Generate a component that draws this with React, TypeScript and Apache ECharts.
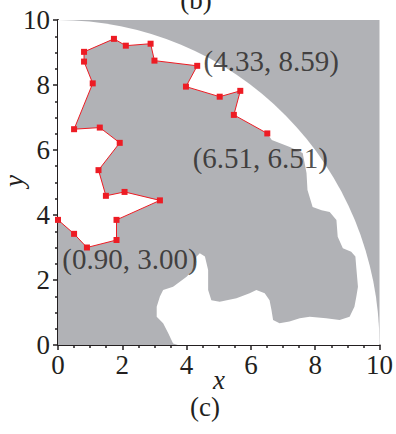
import React, { useEffect, useRef } from "react";
import * as echarts from "echarts";

// Red polyline (boundary trace) with square markers
const PATH_X = [6.51, 5.47, 5.67, 5.03, 3.98, 4.33, 3.0, 2.88, 2.11, 1.74, 0.81, 0.81, 1.08, 0.5, 1.3, 1.92, 1.26, 1.49, 2.07, 3.17, 1.82, 1.82, 0.9, 0.5, 0.0];
const PATH_Y = [6.51, 7.08, 7.82, 7.64, 7.95, 8.59, 8.75, 9.27, 9.21, 9.42, 9.02, 8.72, 8.05, 6.64, 6.69, 6.22, 5.38, 4.59, 4.71, 4.45, 3.85, 3.23, 3.0, 3.42, 3.85];

// Remaining outline of the gray body (after the trace, down to the bottom axis)
const EDGE_X = [6.65, 7.21, 7.61, 7.73, 7.76, 7.92, 8.2, 8.45, 8.66, 8.7, 8.86, 9.12, 9.25, 9.28, 9.33, 9.28, 9.22, 9.07, 8.76, 8.34, 7.83, 7.52, 7.2, 6.89, 6.69, 6.64, 6.58, 6.43, 6.17, 5.96, 5.55, 5.03, 4.77, 4.67, 4.67, 4.57, 4.41, 4.31, 4.2, 4.0, 3.58, 3.27, 3.17, 3.07, 3.07, 3.27, 3.43, 3.58, 3.73, 0];
const EDGE_Y = [6.31, 6.09, 5.91, 5.29, 4.77, 4.25, 4.15, 4.09, 3.85, 3.33, 2.98, 2.87, 2.72, 2.36, 1.79, 1.49, 1.18, 0.87, 0.77, 0.82, 0.87, 0.82, 0.72, 0.67, 0.77, 1.08, 1.38, 1.59, 1.69, 1.59, 1.44, 1.33, 1.38, 1.69, 2.31, 2.72, 2.82, 2.72, 2.31, 2.1, 1.79, 1.69, 1.49, 1.18, 0.87, 0.67, 0.36, 0.05, 0, 0];

// Radius of the white quarter disc (centered at origin)
const ARC_RADIUS = [10];

// Annotated points (indices into the trace)
const LABEL_INDEX = [5, 0, 22];

const X_TICKS = [0, 2, 4, 6, 8, 10];
const Y_TICKS = [0, 2, 4, 6, 8, 10];

const GRAY = "#b1b2b6";
const RED = "#ed1c24";
const TEXT = "#231f20";
const FONT = "Liberation Serif";

const LABEL_OFFSETS: number[][] = [
  [74, -5],
  [-7, 25],
  [43, 11],
];

export default function App() {
  const ref = useRef<HTMLDivElement>(null);

  useEffect(() => {
    if (!ref.current) return;
    const chart = echarts.init(ref.current, undefined, { renderer: "svg" });

    const bodyX = [...PATH_X].reverse().concat(EDGE_X);
    const bodyY = [...PATH_Y].reverse().concat(EDGE_Y);

    const axisCommon = {
      min: 0,
      max: 10,
      interval: 2,
      axisLine: { show: true, onZero: false, lineStyle: { color: TEXT, width: 2 } },
      axisTick: { show: true, inside: false, length: 5, lineStyle: { color: TEXT, width: 1.5 } },
      minorTick: { show: true, splitNumber: 4, length: 3, lineStyle: { color: TEXT, width: 1.5 } },
      splitLine: { show: false },
      minorSplitLine: { show: false },
    };

    const textStyle = (text: string, italic: boolean, extra: any = {}) => ({
      text,
      fontFamily: FONT,
      fontSize: 27,
      fontStyle: italic ? "italic" : "normal",
      fill: TEXT,
      align: "center",
      verticalAlign: "middle",
      ...extra,
    });

    chart.setOption({
      animation: false,
      backgroundColor: "#ffffff",
      grid: { left: 58, right: 16, top: 20, bottom: 89, containLabel: false },
      xAxis: {
        type: "value",
        ...axisCommon,
        axisLabel: {
          margin: 6,
          color: TEXT,
          fontFamily: FONT,
          fontSize: 27,
          formatter: (v: number) => (X_TICKS.includes(v) ? String(v) : ""),
        },
      },
      yAxis: {
        type: "value",
        ...axisCommon,
        axisLabel: {
          margin: 8,
          color: TEXT,
          fontFamily: FONT,
          fontSize: 27,
          formatter: (v: number) => (Y_TICKS.includes(v) ? String(v) : ""),
        },
      },
      graphic: [
        { type: "text", x: 219, y: 380, style: textStyle("x", true) },
        { type: "text", x: 14, y: 181, rotation: Math.PI / 2, style: textStyle("y", true) },
        { type: "text", x: 205, y: 407, style: textStyle("(c)", false) },
        { type: "text", x: 196, y: 13, style: textStyle("(b)", false, { verticalAlign: "bottom" }) },
      ],
      series: [
        {
          type: "custom",
          z: 1,
          silent: true,
          data: [[0, 0]],
          renderItem: (_p: any, api: any) => {
            const tl = api.coord([0, 10]);
            const br = api.coord([10, 0]);
            const o = api.coord([0, 0]);
            const s = api.size([ARC_RADIUS[0], ARC_RADIUS[0]]);
            return {
              type: "group",
              children: [
                {
                  type: "rect",
                  shape: { x: tl[0], y: tl[1], width: br[0] - tl[0], height: br[1] - tl[1] },
                  style: { fill: GRAY },
                },
                {
                  type: "sector",
                  x: o[0],
                  y: o[1],
                  scaleY: s[1] / s[0],
                  shape: { cx: 0, cy: 0, r: s[0], r0: 0, startAngle: -Math.PI / 2, endAngle: 0, clockwise: true },
                  style: { fill: "#ffffff" },
                },
              ],
            };
          },
        },
        {
          type: "custom",
          z: 2,
          silent: true,
          data: [[0, 0]],
          renderItem: (_p: any, api: any) => {
            const pts = bodyX.map((x, i) => api.coord([x, bodyY[i]]));
            return { type: "polygon", shape: { points: pts }, style: { fill: GRAY } };
          },
        },
        {
          type: "line",
          z: 3,
          data: PATH_X.map((x, i) => [x, PATH_Y[i]]),
          symbol: "rect",
          symbolSize: 6,
          showAllSymbol: true,
          lineStyle: { color: RED, width: 1 },
          itemStyle: { color: RED },
        },
        {
          type: "scatter",
          z: 4,
          symbolSize: 0,
          data: LABEL_INDEX.map((idx, k) => ({
            value: [PATH_X[idx], PATH_Y[idx]],
            label: { offset: LABEL_OFFSETS[k] },
          })),
          label: {
            show: true,
            position: "inside",
            align: "center",
            verticalAlign: "middle",
            color: TEXT,
            fontFamily: FONT,
            fontSize: 29,
            formatter: (p: any) => `(${p.value[0].toFixed(2)}, ${p.value[1].toFixed(2)})`,
          },
        },
      ],
    });

    return () => chart.dispose();
  }, []);

  return <div ref={ref} style={{ width: 396, height: 434, position: "absolute", left: 0, top: 0 }} />;
}
